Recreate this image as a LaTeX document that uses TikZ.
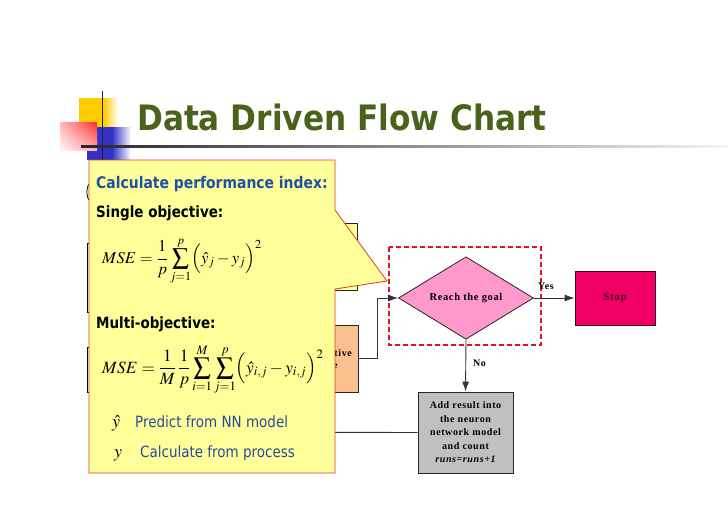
\documentclass[tikz,border=0pt]{standalone}
\usepackage{mathptmx}
\usepackage{fontspec}
\setmainfont{Liberation Serif}
\newfontfamily\titlefont{DejaVu Sans}[FakeStretch=0.89]
\newfontfamily\sansf{DejaVu Sans}[FakeStretch=0.87]
\newfontfamily\flowfont{Liberation Serif}[LetterSpace=6]
\usetikzlibrary{shapes.geometric,arrows.meta,calc,shadings}
\definecolor{titlegreen}{RGB}{74,98,26}
\definecolor{calloutfill}{RGB}{255,255,153}
\definecolor{calloutline}{RGB}{220,60,40}
\definecolor{idxblue}{RGB}{30,80,165}
\definecolor{txtblue}{RGB}{40,75,160}
\definecolor{pinkfill}{RGB}{255,153,204}
\definecolor{stopfill}{RGB}{240,0,100}
\definecolor{stoptext}{RGB}{70,0,25}
\definecolor{grayfill}{RGB}{192,192,192}
\definecolor{orangefill}{RGB}{250,192,143}
\definecolor{paleyellow}{RGB}{255,255,160}
\definecolor{framered}{RGB}{225,20,30}
\definecolor{decoyellow}{RGB}{255,204,0}
\definecolor{decored}{RGB}{255,20,20}
\definecolor{decoblue}{RGB}{50,50,200}
\tikzset{
  flowbox/.style={draw=black!85, line width=0.8pt, inner sep=0pt, align=center,
    font=\flowfont\bfseries\fontsize{10}{13.5}\selectfont},
  hidbox/.style={draw=black, line width=0.8pt, fill=white, inner sep=0pt},
  conn/.style={draw=black!80, line width=0.9pt},
  arr/.style={conn, -{Latex[length=10pt,width=7pt]}},
  lbl/.style={inner sep=0pt, anchor=base, font=\flowfont\bfseries\fontsize{10}{12}\selectfont},
  headtxt/.style={inner sep=0pt, anchor=base west, font=\sansf\bfseries\fontsize{15.5}{18}\selectfont},
  desctxt/.style={inner sep=0pt, anchor=base west, text=txtblue, font=\sansf\fontsize{15.5}{18}\selectfont},
  mathtxt/.style={inner sep=0pt, anchor=base west, font=\fontsize{16.5}{19}\selectfont},
}
\begin{document}
\begin{tikzpicture}[x=1pt,y=-1pt]
\useasboundingbox (0,0) rectangle (728,515);
\fill[white] (0,0) rectangle (728,515);
% decoration
\fill[decoyellow] (79,98) rectangle (104,135);
\shade[left color=decoyellow, right color=white] (104,98) rectangle (118,135);
\fill[decoblue] (87,127) rectangle (112,160);
\shade[left color=decoblue, right color=white] (112,127) rectangle (131,160);
\shade[upper left=decored!30, upper right=decored!90, lower left=decored!5, lower right=decored!35] (60,122) rectangle (97,150);
\draw[line width=1pt, black!85] (102,91) -- (102,160);
\shade[left color=black!85, right color=black!4] (81,145.3) rectangle (728,147.3);
% title
\node[inner sep=0pt, anchor=base west, text=titlegreen, font=\titlefont\bfseries\fontsize{35}{40}\selectfont] (title) at (137,130) {Data Driven Flow Chart};
% boxes partly hidden behind the callout
\node[hidbox, rounded corners=14pt, minimum width=130pt, minimum height=30pt] (start) at (152,192) {};
\node[hidbox, minimum width=113pt, minimum height=69pt] (lbox1) at (143.5,277.5) {};
\node[hidbox, minimum width=113pt, minimum height=45pt] (lbox2) at (143.5,369.5) {};
\node[flowbox, fill=paleyellow, minimum width=107pt, minimum height=67pt] (box1) at (303.5,256.5) {};
\node[flowbox, fill=orangefill, minimum width=108pt, minimum height=67pt] (box2) at (304,358.5) {};
\node[lbl, anchor=base east] (box2a) at (352,356) {tive};
\node[lbl, anchor=base west] (box2b) at (333,368) {e};
\coordinate (lhid) at (200,432);
% flow chart
\draw[draw=framered, line width=1.3pt, dash pattern=on 5pt off 3pt] (389,247) rectangle (541,345);
\node[diamond, draw=black!85, line width=0.8pt, fill=pinkfill, minimum width=135pt, minimum height=81pt, inner sep=0pt, font=\flowfont\bfseries\fontsize{10.5}{12}\selectfont] (goal) at (466,298) {Reach the goal};
\node[flowbox, fill=stopfill, draw=stoptext, text=stoptext, minimum width=80pt, minimum height=54pt, font=\flowfont\bfseries\fontsize{11}{12}\selectfont] (stop) at (615,298) {Stop};
\node[flowbox, fill=grayfill, minimum width=95pt, minimum height=81pt] (add) at (465.5,432.5) {Add result into\\the neuron\\network model\\and count\\\itshape runs=runs+1};
\draw[arr] (box2.east) -- ++(19,0) |- (goal.west);
\draw[arr] (goal.east) -- (stop.west);
\draw[arr] (goal.south) -- (add.north);
\draw[conn] (add.west) -- (lhid);
\node[lbl] (yes) at (546,289) {Yes};
\node[lbl] (no) at (479.5,366) {No};
% callout
\filldraw[fill=calloutfill, draw=calloutline, line width=0.8pt] (89,160) -- (335,160) -- (335,210) -- (387,281) -- (335,289) -- (335,473) -- (89,473) -- cycle;
\node[headtxt, text=idxblue, font=\sansf\bfseries\fontsize{16}{18}\selectfont] (t1) at (96,188) {Calculate performance index:};
\node[headtxt] (t2) at (96,217) {Single objective:};
\node[mathtxt] (f1) at (102,263) {$\displaystyle MSE=\frac{1}{p}\sum_{j=1}^{p}\Bigl(\hat{y}_j-y_j\Bigr)^{2}$};
\node[headtxt] (t3) at (96,328) {Multi-objective:};
\node[mathtxt, font=\fontsize{17.2}{19}\selectfont] (f2) at (102,373) {$\displaystyle MSE=\frac{1}{M}\,\frac{1}{p}\sum_{i=1}^{M}\sum_{j=1}^{p}\Bigl(\hat{y}_{i,j}-y_{i,j}\Bigr)^{2}$};
\node[mathtxt, font=\fontsize{18}{20}\selectfont] (yh) at (112,427) {$\hat{y}$};
\node[desctxt] (d1) at (135,427) {Predict from NN model};
\node[mathtxt, font=\fontsize{18}{20}\selectfont] (yy) at (114,457) {$y$};
\node[desctxt] (d2) at (140,457) {Calculate from process};
\end{tikzpicture}
\end{document}
